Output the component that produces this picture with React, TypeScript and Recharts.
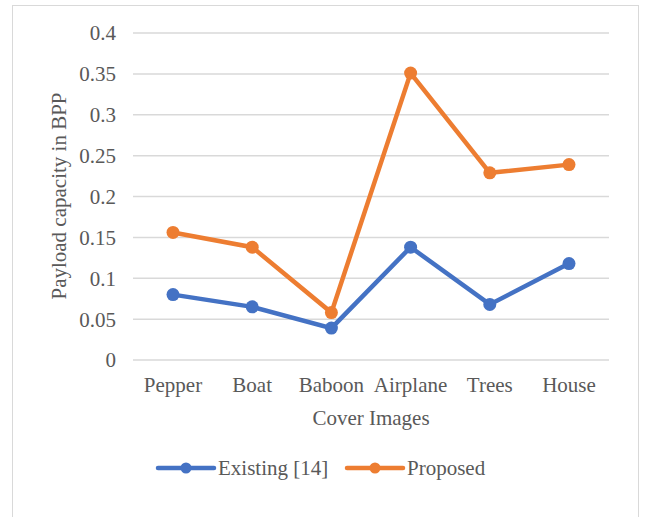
import { LineChart, Line, XAxis, YAxis, CartesianGrid } from "recharts";

const images = ["Pepper", "Boat", "Baboon", "Airplane", "Trees", "House"];
const existing = [0.08, 0.065, 0.039, 0.138, 0.068, 0.118];
const proposed = [0.156, 0.138, 0.058, 0.351, 0.229, 0.239];
const yTicks = [0, 0.05, 0.1, 0.15, 0.2, 0.25, 0.3, 0.35, 0.4];

const series = [
  { key: "existing", name: "Existing [14]", color: "#4472C4" },
  { key: "proposed", name: "Proposed", color: "#ED7D31" },
];

const data = images.map((image, i) => ({
  image,
  existing: existing[i],
  proposed: proposed[i],
}));

const font = "'Liberation Serif', 'Times New Roman', serif";
const textColor = "#595959";

function ChartLegend() {
  return (
    <svg width={646} height={40} style={{ position: "absolute", left: 0, top: 448 }}>
      {series.map((s, i) => {
        const x0 = 158 + i * 189;
        return (
          <g key={s.key}>
            <line x1={x0} y1={20} x2={x0 + 56} y2={20} stroke={s.color} strokeWidth={4.5} strokeLinecap="round" />
            <circle cx={x0 + 28} cy={20} r={5.5} fill={s.color} />
            <text x={x0 + 60} y={20} dominantBaseline="central" fontFamily={font} fontSize={21} fill={textColor}>
              {s.name}
            </text>
          </g>
        );
      })}
    </svg>
  );
}

export default function App() {
  return (
    <div style={{ position: "absolute", left: 0, top: 0, width: 646, height: 517, background: "#fff", overflow: "hidden" }}>
      <div
        style={{
          position: "absolute",
          left: 12,
          top: 5,
          width: 625,
          height: 530,
          borderTop: "1.5px solid #d9d9d9",
          borderLeft: "1.5px solid #d9d9d9",
          borderRight: "1.5px solid #d9d9d9",
        }}
      />
      <div style={{ position: "absolute", left: 0, top: 0, fontFamily: font }}>
        <LineChart width={646} height={517} data={data} margin={{ top: 33, right: 37, bottom: 87, left: 0 }}>
          <CartesianGrid horizontal vertical={false} stroke="#d9d9d9" strokeWidth={1.5} />
          <XAxis
            dataKey="image"
            height={70}
            padding={{ left: 40, right: 40 }}
            axisLine={false}
            tickLine={false}
            tickSize={0}
            tickMargin={17}
            tick={{ fontFamily: font, fontSize: 21, fill: textColor }}
            label={{
              value: "Cover Images",
              position: "insideBottom",
              offset: 5,
              style: { fontFamily: font, fontSize: 21, fill: textColor },
            }}
          />
          <YAxis
            width={133}
            domain={[0, 0.4]}
            ticks={yTicks}
            interval={0}
            axisLine={false}
            tickLine={false}
            tickSize={0}
            tickMargin={17}
            tickFormatter={(v: number) => String(v)}
            tick={{ fontFamily: font, fontSize: 21, fill: textColor }}
            label={{
              content: () => (
                <text
                  x={59}
                  y={196}
                  transform="rotate(-90 59 196)"
                  textAnchor="middle"
                  dominantBaseline="central"
                  fontFamily={font}
                  fontSize={21}
                  fill={textColor}
                >
                  Payload capacity in BPP
                </text>
              ),
            }}
          />
          {series.map((s) => (
            <Line
              key={s.key}
              dataKey={s.key}
              name={s.name}
              stroke={s.color}
              strokeWidth={4.5}
              dot={{ r: 6.5, fill: s.color, stroke: s.color, strokeWidth: 0 }}
              activeDot={false}
              isAnimationActive={false}
            />
          ))}
        </LineChart>
      </div>
      <ChartLegend />
    </div>
  );
}
